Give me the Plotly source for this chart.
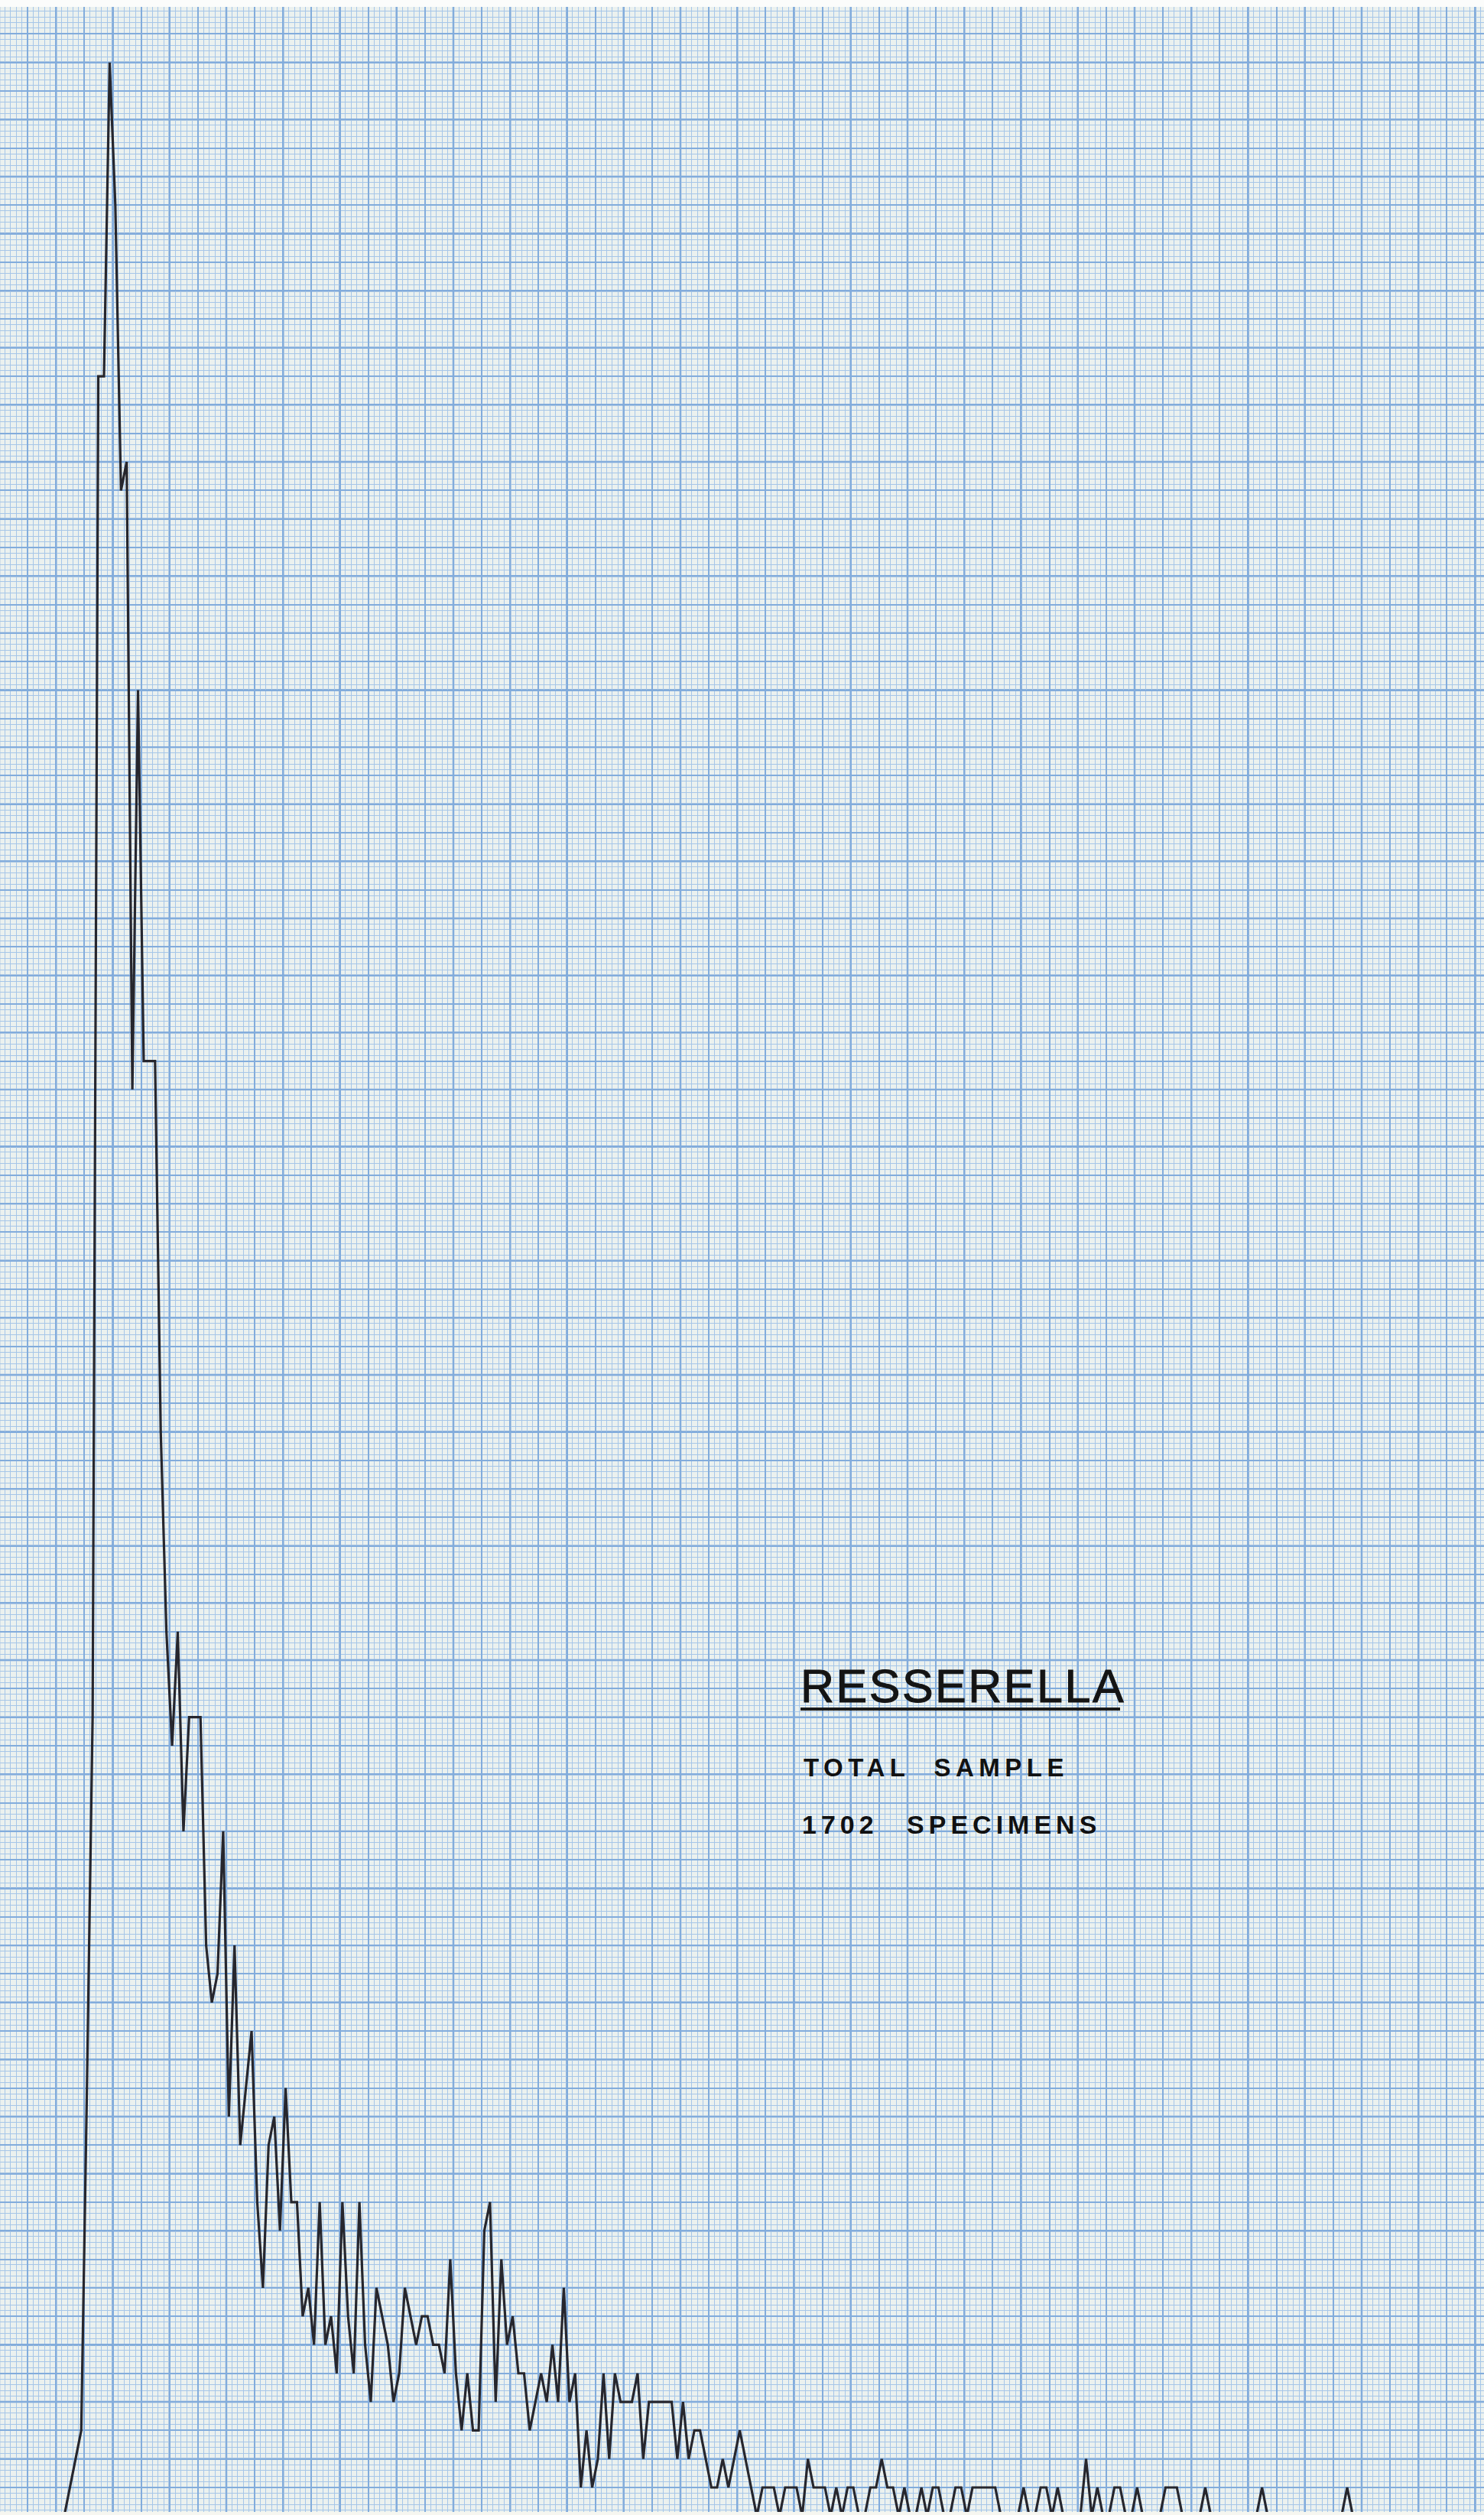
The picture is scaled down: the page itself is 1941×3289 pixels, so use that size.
import plotly.graph_objects as go

# ---- data: size class index (one minor grid step each) and number of specimens ----
size_class = list(range(11, 239))
specimens = [
    0, 1, 2, 3, 15, 28, 75, 75, 86, 81,      # 11-20
    71, 72, 50, 64, 51, 51, 51, 38, 31, 27,  # 21-30
    31, 24, 28, 28, 28, 20, 18, 19, 24, 14,  # 31-40
    20, 13, 15, 17, 11, 8, 13, 14, 10, 15,   # 41-50
    11, 11, 7, 8, 6, 11, 6, 7, 5, 11,        # 51-60
    7, 5, 11, 6, 4, 8, 7, 6, 4, 5,           # 61-70
    8, 7, 6, 7, 7, 6, 6, 5, 9, 5,            # 71-80
    3, 5, 3, 3, 10, 11, 4, 9, 6, 7,          # 81-90
    5, 5, 3, 4, 5, 4, 6, 4, 8, 4,            # 91-100
    5, 1, 3, 1, 2, 5, 2, 5, 4, 4,            # 101-110
    4, 5, 2, 4, 4, 4, 4, 4, 2, 4,            # 111-120
    2, 3, 3, 2, 1, 1, 2, 1, 2, 3,            # 121-130
    2, 1, 0, 1, 1, 1, 0, 1, 1, 1,            # 131-140
    0, 2, 1, 1, 1, 0, 1, 0, 1, 1,            # 141-150
    0, 0, 1, 1, 2, 1, 1, 0, 1, 0,            # 151-160
    0, 1, 0, 1, 1, 0, 0, 1, 1, 0,            # 161-170
    1, 1, 1, 1, 1, 0, 0, 0, 0, 1,            # 171-180
    0, 0, 1, 1, 0, 1, 0, 0, 0, 0,            # 181-190
    2, 0, 1, 0, 0, 1, 1, 0, 0, 1,            # 191-200
    0, 0, 0, 0, 1, 1, 1, 0, 0, 0,            # 201-210
    0, 1, 0, 0, 0, 0, 0, 0, 0, 0,            # 211-220
    0, 1, 0, 0, 0, 0, 0, 0, 0, 0,            # 221-230
    0, 0, 0, 0, 0, 0, 1, 0,                  # 231-238
]

title_text = "RESSERELLA"
subtitle_1 = "TOTAL SAMPLE"
subtitle_2 = "1702 SPECIMENS"

W, H = 1941, 3289
X_RANGE = [-0.315, 261.1]
Y_RANGE = [0.035, 88.19]
X_GRID0 = -0.45

PAPER = "#ebf1ef"
MINOR = "#a6c6e8"
MEDIUM = "#82acdc"
MAJOR = "#6d9bd3"
INK = "#26262d"

fig = go.Figure()
fig.add_trace(go.Scatter(
    x=size_class, y=specimens, mode="lines",
    line=dict(color=INK, width=3.2), hoverinfo="skip", showlegend=False,
))

# heavy rulings every 10 small squares (graph paper decoration)
shapes = []
k = 0
while X_GRID0 + 10 * k <= X_RANGE[1]:
    xv = X_GRID0 + 10 * k
    shapes.append(dict(type="line", xref="x", yref="paper", x0=xv, x1=xv, y0=0, y1=1,
                       line=dict(color=MAJOR, width=2.4), layer="between"))
    k += 1
j = 0
while 2 * j <= Y_RANGE[1]:
    yv = 2 * j
    shapes.append(dict(type="line", xref="paper", yref="y", x0=0, x1=1, y0=yv, y1=yv,
                       line=dict(color=MAJOR, width=2.4), layer="between"))
    j += 1

# white paper margin at top, scan edge at bottom
shapes.append(dict(type="rect", xref="paper", yref="paper", x0=0, x1=1,
                   y0=1 - 9 / H, y1=1, fillcolor="#fbfcfb", line=dict(width=0), layer="above"))
shapes.append(dict(type="rect", xref="paper", yref="paper", x0=0, x1=1,
                   y0=0, y1=4 / H, fillcolor="#f6f6f0", line=dict(width=0), layer="above"))
# underline of the title
shapes.append(dict(type="line", xref="paper", yref="paper",
                   x0=1047 / W, x1=1465 / W, y0=1 - 2235 / H, y1=1 - 2235 / H,
                   line=dict(color="#1b1b1b", width=3.8), layer="above"))

annotations = [
    dict(text=f'<span style="letter-spacing:2.5px;stroke:#141414;stroke-width:1px">{title_text}</span>',
         x=1045 / W, y=1 - 2205 / H, xref="paper", yref="paper",
         xanchor="left", yanchor="middle", showarrow=False,
         font=dict(family="Liberation Sans", size=61, color="#141414")),
    dict(text=f'<span style="letter-spacing:6.5px;word-spacing:16px"><b>{subtitle_1}</b></span>',
         x=1049 / W, y=1 - 2311 / H, xref="paper", yref="paper",
         xanchor="left", yanchor="middle", showarrow=False,
         font=dict(family="Liberation Sans", size=33, color="#111111")),
    dict(text=f'<span style="letter-spacing:6px;word-spacing:22px"><b>{subtitle_2}</b></span>',
         x=1047 / W, y=1 - 2385.5 / H, xref="paper", yref="paper",
         xanchor="left", yanchor="middle", showarrow=False,
         font=dict(family="Liberation Sans", size=34, color="#111111")),
]

fig.update_layout(
    width=W, height=H,
    margin=dict(l=0, r=0, t=0, b=0, pad=0),
    paper_bgcolor=PAPER, plot_bgcolor=PAPER,
    showlegend=False,
    shapes=shapes,
    annotations=annotations,
    xaxis=dict(range=X_RANGE, showgrid=True, gridcolor=MEDIUM, gridwidth=1.5,
               tick0=X_GRID0, dtick=5, showticklabels=False, ticks="",
               zeroline=False, showline=False, fixedrange=True,
               minor=dict(tick0=X_GRID0, dtick=1, showgrid=True, gridcolor=MINOR, gridwidth=1)),
    yaxis=dict(range=Y_RANGE, showgrid=True, gridcolor=MEDIUM, gridwidth=1.5,
               tick0=0, dtick=1, showticklabels=False, ticks="",
               zeroline=False, showline=False, fixedrange=True,
               minor=dict(tick0=0, dtick=0.2, showgrid=True, gridcolor=MINOR, gridwidth=1)),
)

fig.write_html("out.html", config={"displayModeBar": False})
